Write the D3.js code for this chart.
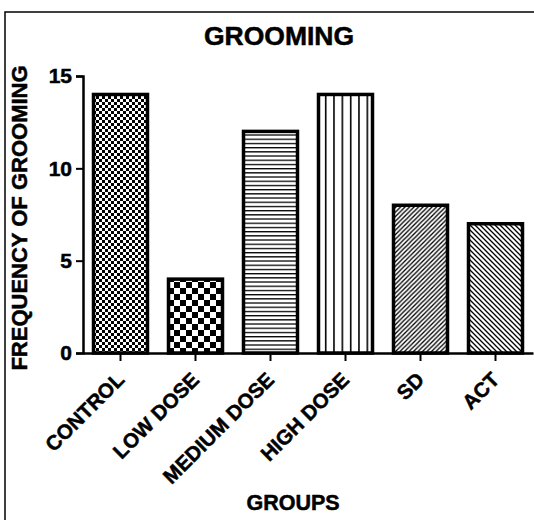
<!DOCTYPE html>
<html><head><meta charset="utf-8">
<script src="https://cdn.jsdelivr.net/npm/d3@7"></script>
<style>body{margin:0;background:#fff}svg{display:block}text{font-family:"Liberation Sans",Arial,sans-serif;font-weight:bold;fill:#000;stroke:#000;stroke-width:0.5px}</style>
</head><body><svg id="c" width="534" height="520"></svg>
<script>
const categories = ["CONTROL","LOW DOSE","MEDIUM DOSE","HIGH DOSE","SD","ACT"];
const values = [14, 4, 12, 14, 8, 7];
const patterns = ["fineCheck","coarseCheck","hLines","vLines","diagUp","diagDown"];
const yTicks = [0, 5, 10, 15];

const svg = d3.select("#c");
const defs = svg.append("defs");

function pat(id, w, h, draw){
  const p = defs.append("pattern").attr("id", id).attr("patternUnits","userSpaceOnUse")
    .attr("width", w).attr("height", h);
  p.append("rect").attr("width", w).attr("height", h).attr("fill","#fff");
  draw(p);
}
pat("fineCheck", 6, 6, p => {
  p.append("rect").attr("x",0).attr("y",0).attr("width",3).attr("height",3).attr("fill","#000");
  p.append("rect").attr("x",3).attr("y",3).attr("width",3).attr("height",3).attr("fill","#000");
});
pat("coarseCheck", 12, 12, p => {
  p.append("rect").attr("x",0).attr("y",0).attr("width",6).attr("height",6).attr("fill","#000");
  p.append("rect").attr("x",6).attr("y",6).attr("width",6).attr("height",6).attr("fill","#000");
});
pat("hLines", 8, 4.2, p => {
  p.append("rect").attr("x",0).attr("y",0).attr("width",8).attr("height",1.3).attr("fill","#000");
});
pat("vLines", 8.33, 8, p => {
  p.append("rect").attr("x",0).attr("y",0).attr("width",1.6).attr("height",8).attr("fill","#000");
});
pat("diagUp", 4.5, 4.5, p => {
  p.append("path").attr("d","M-1,5.5 L5.5,-1 M-2.25,2.25 L2.25,-2.25 M2.25,6.75 L6.75,2.25").attr("stroke","#000").attr("stroke-width",1.3);
});
pat("diagDown", 5, 5, p => {
  p.append("path").attr("d","M-1,-1 L6,6 M-2.5,2.5 L2.5,7.5 M2.5,-2.5 L7.5,2.5").attr("stroke","#000").attr("stroke-width",1.3);
});

// frame
svg.append("path").attr("d","M5,520 L5,12 L534,12").attr("fill","none").attr("stroke","#000").attr("stroke-width",1.5);

const x0 = 83, x1 = 533, yTop = 76, yBot = 353;
const x = d3.scaleBand().domain(categories).range([x0, x1]).paddingInner(0.28).paddingOuter(0.14);
const y = d3.scaleLinear().domain([0, 15]).range([yBot, yTop]);

svg.append("g").selectAll("rect").data(categories).join("rect")
  .attr("x", d => x(d))
  .attr("y", (d,i) => y(values[i]))
  .attr("width", x.bandwidth())
  .attr("height", (d,i) => yBot - y(values[i]))
  .attr("fill", (d,i) => `url(#${patterns[i]})`)
  .attr("stroke", "#000").attr("stroke-width", 3.5);

const ya = svg.append("g").attr("transform", `translate(${x0},0)`)
  .call(d3.axisLeft(y).tickValues(yTicks).tickSize(7).tickPadding(4).tickFormat(d3.format("d")));
ya.select(".domain").attr("stroke-width", 2.5);
ya.selectAll(".tick line").attr("stroke-width", 2);
ya.selectAll(".tick text").style("font-size","21px").style("font-family","Liberation Sans, Arial, sans-serif").style("font-weight","bold");

const xa = svg.append("g").attr("transform", `translate(0,${yBot})`)
  .call(d3.axisBottom(x).tickSize(8).tickSizeOuter(0).tickFormat(""));
xa.select(".domain").attr("stroke-width", 2.5);
xa.selectAll(".tick line").attr("stroke-width", 2);

svg.append("g").selectAll("text").data(categories).join("text")
  .attr("text-anchor","end")
  .attr("transform", d => `translate(${x(d) + x.bandwidth()/2 + 5},${yBot + 28}) rotate(-45)`)
  .style("font-size","20.5px")
  .text(d => d);

svg.append("text").attr("x", 279).attr("y", 45).attr("text-anchor","middle").style("font-size","26.5px").text("GROOMING");
svg.append("text").attr("x", 293).attr("y", 510).attr("text-anchor","middle").style("font-size","21.5px").text("GROUPS");
svg.append("text").attr("transform","translate(27,218) rotate(-90)").attr("text-anchor","middle").style("font-size","22px").text("FREQUENCY OF GROOMING");
</script></body></html>
